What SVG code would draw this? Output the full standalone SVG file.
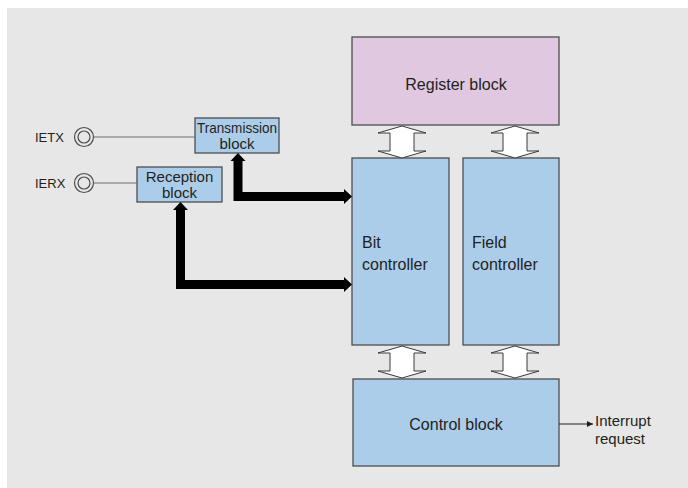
<svg xmlns="http://www.w3.org/2000/svg" width="688" height="488" viewBox="0 0 688 488">
<defs>
<style>
text{font-family:"Liberation Sans",Arial,sans-serif;fill:#231f20}
.big{font-size:16px}
.sm{font-size:15px}
.lbl{font-size:13px}
.blue{fill:#abcdea;stroke:#4d4d4f;stroke-width:1.3}
.pink{fill:#dfc8e0;stroke:#4d4d4f;stroke-width:1.3}
.dbl{fill:#ffffff;stroke:#3a3a3a;stroke-width:1}
.thick{fill:none;stroke:#000;stroke-width:9}
</style>
<marker id="ah" viewBox="0 0 10 10" refX="10" refY="5" markerWidth="8" markerHeight="6" markerUnits="userSpaceOnUse" orient="auto"><path d="M0,0L10,5L0,10z" fill="#231f20"/></marker>
</defs>
<rect x="0" y="0" width="688" height="488" fill="#ffffff"/>
<rect x="7" y="8" width="681" height="480" fill="#e6e7e6"/>

<g id="register-block"><rect class="pink" x="352" y="37" width="207" height="88"/><text class="big" x="456" y="90" text-anchor="middle">Register block</text></g>
<g id="bit-controller"><rect class="blue" x="352" y="158" width="97" height="187"/><text class="big" x="362" y="248">Bit</text><text class="big" x="362" y="270">controller</text></g>
<g id="field-controller"><rect class="blue" x="463" y="158" width="96" height="187"/><text class="big" x="472" y="248">Field</text><text class="big" x="472" y="270">controller</text></g>
<g id="control-block"><rect class="blue" x="353" y="379" width="206" height="87"/><text class="big" x="456" y="430" text-anchor="middle">Control block</text></g>
<g id="transmission-block"><rect class="blue" x="195" y="118" width="84" height="35"/><text class="sm" x="237" y="133" text-anchor="middle" textLength="80" lengthAdjust="spacingAndGlyphs">Transmission</text><text class="sm" x="237" y="149" text-anchor="middle">block</text></g>
<g id="reception-block"><rect class="blue" x="137" y="167" width="85" height="35"/><text class="sm" x="179.5" y="182" text-anchor="middle">Reception</text><text class="sm" x="179.5" y="198" text-anchor="middle">block</text></g>
<g id="ietx"><text class="lbl" x="35" y="142">IETX</text><circle cx="84" cy="137" r="9.5" fill="none" stroke="#4d4d4f" stroke-width="1.2"/><circle cx="84" cy="137" r="6" fill="none" stroke="#4d4d4f" stroke-width="1.2"/></g>
<g id="ierx"><text class="lbl" x="35" y="188">IERX</text><circle cx="84" cy="183" r="9.5" fill="none" stroke="#4d4d4f" stroke-width="1.2"/><circle cx="84" cy="183" r="6" fill="none" stroke="#4d4d4f" stroke-width="1.2"/></g>
<g id="interrupt-label"><text class="sm" x="595" y="426">Interrupt</text><text class="sm" x="595" y="444">request</text></g>

<g id="connectors">
<line x1="93.5" y1="137" x2="195" y2="137" stroke="#6d6e70" stroke-width="1.2"/>
<line x1="93.5" y1="183" x2="137" y2="183" stroke="#6d6e70" stroke-width="1.2"/>
<line x1="559" y1="424" x2="593" y2="424" stroke="#231f20" stroke-width="1.2" marker-end="url(#ah)"/>
<path class="thick" d="M238,160V196.5H345"/>
<path d="M238,153L245.5,161H230.5z M352,196.5L344,189V204z"/>
<path class="thick" d="M180.5,209V284.5H345"/>
<path d="M180.5,202L188,210H173z M352,284.5L344,277V292z"/>
<path class="dbl" d="M402,126L426,133H414V151H426L402,158L378,151H390V133H378z"/>
<path class="dbl" d="M515,126L539,133H527V151H539L515,158L491,151H503V133H491z"/>
<path class="dbl" d="M402,346L426,353H414V371H426L402,378L378,371H390V353H378z"/>
<path class="dbl" d="M515,346L539,353H527V371H539L515,378L491,371H503V353H491z"/>
</g>
</svg>
